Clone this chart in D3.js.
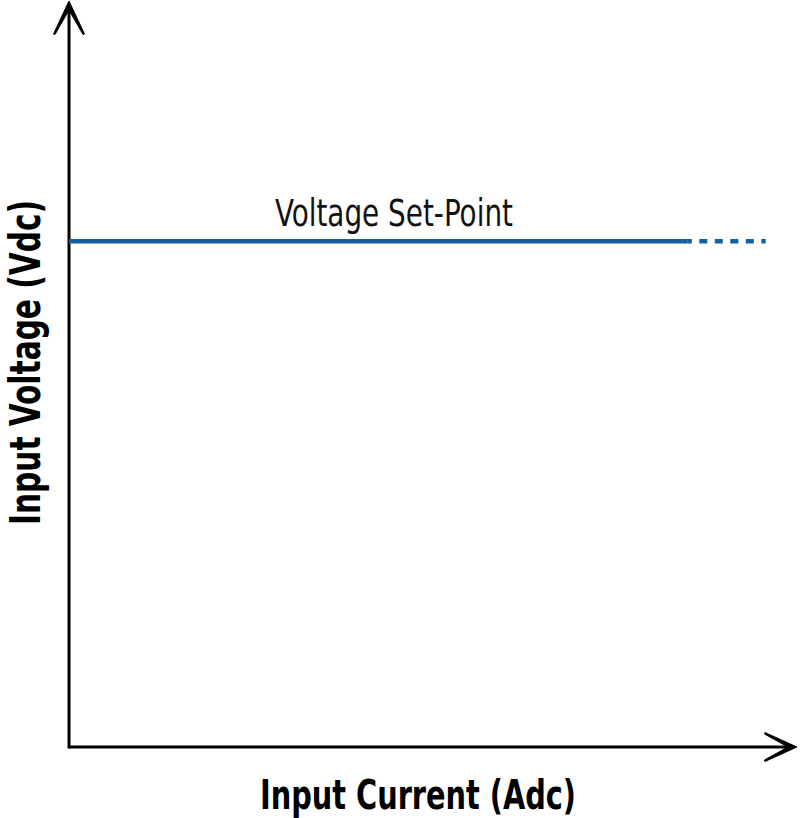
<!DOCTYPE html>
<html><head><meta charset="utf-8">
<script src="https://cdn.jsdelivr.net/npm/d3@7"></script>
<style>body{margin:0;background:#fff}svg{display:block}</style>
</head><body>
<svg id="c" width="800" height="818"></svg>
<script>
const xDomain = [0, 100];
const yDomain = [0, 100];
const setPointLabel = ["Voltage Set-Point"];
const setPointValue = [67.8];
const solidSegment = [0, 85];
const dashedSegment = [85, 95.7];
const xAxisTitle = ["Input Current (Adc)"];
const yAxisTitle = ["Input Voltage (Vdc)"];

const svg = d3.select("#c");
const font = "'Liberation Sans Narrow','DejaVu Sans Condensed','Liberation Sans',sans-serif";
const x = d3.scaleLinear().domain(xDomain).range([69, 797]);
const y = d3.scaleLinear().domain(yDomain).range([747, 1]);

// axes
svg.append("line").attr("x1", x(0)).attr("x2", x(100) - 3).attr("y1", y(0)).attr("y2", y(0))
  .attr("stroke", "#000").attr("stroke-width", 3);
svg.append("line").attr("x1", x(0)).attr("x2", x(0)).attr("y1", y(0) + 1.5).attr("y2", y(100) + 3)
  .attr("stroke", "#000").attr("stroke-width", 3);

// arrowheads
const ty = y(100), tx = x(0);
svg.append("path")
  .attr("d", `M${tx},${ty} L${tx-15.5},${ty+33} L${tx-14},${ty+33.5} L${tx},${ty+9} L${tx+14},${ty+33.5} L${tx+15.5},${ty+33} Z`)
  .attr("fill", "#000").attr("stroke", "#000").attr("stroke-width", 1).attr("stroke-linejoin", "round");
const ax = x(100), ay = y(0);
svg.append("path")
  .attr("d", `M${ax},${ay} L${ax-32},${ay-14.5} L${ax-32.5},${ay-13} L${ax-9},${ay} L${ax-32.5},${ay+13} L${ax-32},${ay+14.5} Z`)
  .attr("fill", "#000").attr("stroke", "#000").attr("stroke-width", 1).attr("stroke-linejoin", "round");

// set-point line
const col = "#135f9f";
svg.append("line").attr("x1", x(solidSegment[0])).attr("x2", x(solidSegment[1]))
  .attr("y1", y(setPointValue[0])).attr("y2", y(setPointValue[0]))
  .attr("stroke", col).attr("stroke-width", 4.5);
svg.append("line").attr("x1", x(dashedSegment[0])).attr("x2", x(dashedSegment[1]))
  .attr("y1", y(setPointValue[0])).attr("y2", y(setPointValue[0]))
  .attr("stroke", col).attr("stroke-width", 4.5).attr("stroke-dasharray", "4,7.5,8,7.5,8,7.5,8,7.5,8,7.5,8,7.5");

// labels
svg.append("text").text(setPointLabel[0]).attr("x", 275).attr("y", 226)
  .attr("font-family", font).attr("font-size", 37).attr("fill", "#111")
  .attr("textLength", 238).attr("lengthAdjust", "spacingAndGlyphs");
svg.append("text").text(xAxisTitle[0]).attr("x", 260).attr("y", 809)
  .attr("font-family", font).attr("font-weight", "bold").attr("font-size", 41).attr("fill", "#000")
  .attr("textLength", 316).attr("lengthAdjust", "spacingAndGlyphs");
svg.append("text").text(yAxisTitle[0])
  .attr("transform", "translate(40,525) rotate(-90)")
  .attr("font-family", font).attr("font-weight", "bold").attr("font-size", 43).attr("fill", "#000")
  .attr("textLength", 325).attr("lengthAdjust", "spacingAndGlyphs");
</script>
</body></html>
